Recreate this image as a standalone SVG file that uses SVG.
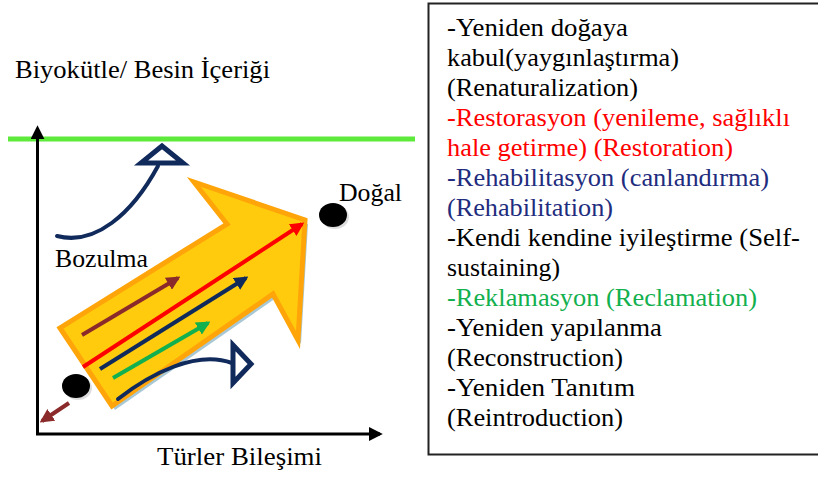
<svg xmlns="http://www.w3.org/2000/svg" width="818" height="477" viewBox="0 0 818 477">
  <style>
    text { font-family: "Liberation Serif", "Times New Roman", serif; font-size: 25px; fill: #000; }
    .red { fill: #FF0000; }
    .navy { fill: #222C7E; }
    .grn { fill: #12B04E; }
    .curve { fill: none; stroke: #102A5C; stroke-width: 4; stroke-linecap: round; }
    .head { fill: #fff; stroke: #102A5C; stroke-width: 5; stroke-linejoin: miter; }
  </style>
  <defs>
    <marker id="mBlack" viewBox="0 0 10 10" refX="8" refY="5" markerWidth="14" markerHeight="14" markerUnits="userSpaceOnUse" orient="auto">
      <path d="M0,0 L10,5 L0,10 z" fill="#000"/>
    </marker>
    <marker id="mRed" viewBox="0 0 10 10" refX="8" refY="5" markerWidth="14" markerHeight="14" markerUnits="userSpaceOnUse" orient="auto">
      <path d="M0,0 L10,5 L0,10 z" fill="#FF0000"/>
    </marker>
    <marker id="mBrown" viewBox="0 0 10 10" refX="8" refY="5" markerWidth="14" markerHeight="14" markerUnits="userSpaceOnUse" orient="auto">
      <path d="M0,0 L10,5 L0,10 z" fill="#8B2A2A"/>
    </marker>
    <marker id="mNavy" viewBox="0 0 10 10" refX="8" refY="5" markerWidth="14" markerHeight="14" markerUnits="userSpaceOnUse" orient="auto">
      <path d="M0,0 L10,5 L0,10 z" fill="#102A5C"/>
    </marker>
    <marker id="mGreen" viewBox="0 0 10 10" refX="8" refY="5" markerWidth="14" markerHeight="14" markerUnits="userSpaceOnUse" orient="auto">
      <path d="M0,0 L10,5 L0,10 z" fill="#12B04E"/>
    </marker>
  </defs>

  <rect width="818" height="477" fill="#fff"/>

  <g id="natural-line">
    <line x1="8" y1="139" x2="415" y2="139" stroke="#5EEA3A" stroke-width="5"/>
  </g>

  <g id="axes">
    <line x1="37.5" y1="435" x2="37.5" y2="128" stroke="#000" stroke-width="3" marker-end="url(#mBlack)"/>
    <line x1="36" y1="434" x2="380" y2="434" stroke="#000" stroke-width="3" marker-end="url(#mBlack)"/>
  </g>

  <g id="big-arrow">
    <polygon points="63,332 115,410 276,298 301,344 308,224 197,186 230,228" fill="#A9C8D6"/>
    <polygon points="60,328 112,406 273,294 298,340 305,220 194,182 227,224" fill="#FFCB0C" stroke="#FFA50A" stroke-width="5" stroke-linejoin="miter"/>
  </g>

  <g id="dot-degraded">
    <ellipse cx="78" cy="388" rx="14" ry="12" fill="#bbb" opacity="0.5"/>
    <ellipse cx="76" cy="386" rx="14" ry="12" fill="#000"/>
  </g>
  <g id="dot-natural">
    <ellipse cx="335" cy="217" rx="14" ry="12" fill="#bbb" opacity="0.5"/>
    <ellipse cx="333" cy="215" rx="14" ry="12" fill="#000"/>
  </g>

  <g id="connectors">
    <line x1="82" y1="335" x2="178" y2="278" stroke="#8B2A2A" stroke-width="4" marker-end="url(#mBrown)"/>
    <line x1="83" y1="367" x2="302" y2="224" stroke="#FF0000" stroke-width="4" marker-end="url(#mRed)"/>
    <line x1="100" y1="369" x2="246" y2="278" stroke="#102A5C" stroke-width="4" marker-end="url(#mNavy)"/>
    <line x1="113" y1="378" x2="208" y2="323" stroke="#12B04E" stroke-width="4" marker-end="url(#mGreen)"/>
    <line x1="69" y1="403" x2="42" y2="421" stroke="#8B2A2A" stroke-width="4" marker-end="url(#mBrown)"/>
    <path class="curve" d="M57,236 C95,246 132,214 158,166"/>
    <polygon class="head" points="162,146 141,163 183,163"/>
    <path class="curve" d="M118,399 C150,374 196,350 232,363"/>
    <polygon class="head" points="233,345 233,383 251,364"/>
  </g>

  <g id="label-yaxis">
    <text x="15" y="78" textLength="255" lengthAdjust="spacingAndGlyphs">Biyokütle/ Besin İçeriği</text>
  </g>
  <g id="label-xaxis">
    <text x="157" y="465" textLength="165" lengthAdjust="spacingAndGlyphs">Türler Bileşimi</text>
  </g>
  <g id="label-dogal">
    <text x="339" y="201" textLength="63" lengthAdjust="spacingAndGlyphs">Doğal</text>
  </g>
  <g id="label-bozulma">
    <text x="55" y="267" textLength="93" lengthAdjust="spacingAndGlyphs">Bozulma</text>
  </g>

  <g id="legend">
    <rect x="428.5" y="3.5" width="400" height="451" fill="none" stroke="#222" stroke-width="2"/>
    <text x="447" y="36" textLength="181" lengthAdjust="spacingAndGlyphs">-Yeniden doğaya</text>
    <text x="447" y="66" textLength="232" lengthAdjust="spacingAndGlyphs">kabul(yaygınlaştırma)</text>
    <text x="447" y="96" textLength="191" lengthAdjust="spacingAndGlyphs">(Renaturalization)</text>
    <text class="red" x="447" y="126" textLength="343" lengthAdjust="spacingAndGlyphs">-Restorasyon (yenileme, sağlıklı</text>
    <text class="red" x="447" y="156" textLength="286" lengthAdjust="spacingAndGlyphs">hale getirme) (Restoration)</text>
    <text class="navy" x="447" y="186" textLength="322" lengthAdjust="spacingAndGlyphs">-Rehabilitasyon (canlandırma)</text>
    <text class="navy" x="447" y="216" textLength="166" lengthAdjust="spacingAndGlyphs">(Rehabilitation)</text>
    <text x="447" y="246" textLength="353" lengthAdjust="spacingAndGlyphs">-Kendi kendine iyileştirme (Self-</text>
    <text x="447" y="276" textLength="113" lengthAdjust="spacingAndGlyphs">sustaining)</text>
    <text class="grn" x="447" y="306" textLength="310" lengthAdjust="spacingAndGlyphs">-Reklamasyon (Reclamation)</text>
    <text x="447" y="336" textLength="215" lengthAdjust="spacingAndGlyphs">-Yeniden yapılanma</text>
    <text x="447" y="366" textLength="176" lengthAdjust="spacingAndGlyphs">(Reconstruction)</text>
    <text x="447" y="396" textLength="188" lengthAdjust="spacingAndGlyphs">-Yeniden Tanıtım</text>
    <text x="447" y="426" textLength="176" lengthAdjust="spacingAndGlyphs">(Reintroduction)</text>
  </g>
</svg>
